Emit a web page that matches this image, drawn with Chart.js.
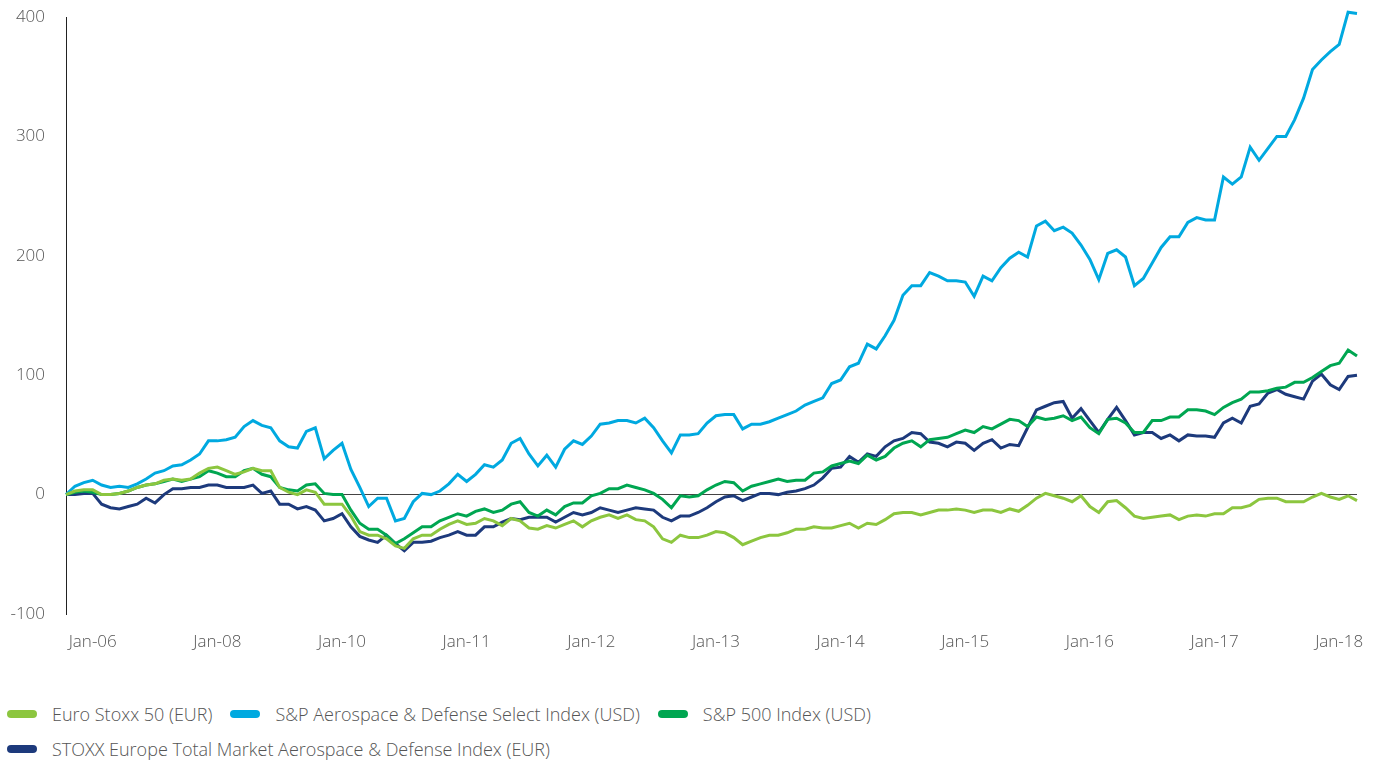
<!DOCTYPE html>
<html>
<head>
<meta charset="utf-8">
<script src="https://cdn.jsdelivr.net/npm/chart.js@4.4.1/dist/chart.umd.min.js"></script>
<style>
  html, body { margin: 0; padding: 0; background: #fff; }
  body { width: 1377px; height: 762px; position: relative; overflow: hidden; font-family: 'Open Sans', sans-serif; }
  #wrap { position: absolute; left: 0; top: 0; width: 1377px; height: 670px; }
  #legend { position: absolute; left: 7px; top: 702px; width: 900px; display: flex; flex-wrap: wrap; row-gap: 11px; column-gap: 18px;
            font-size: 18px; font-weight: 300; color: #555; line-height: 24px; }
  .item { display: flex; align-items: center; white-space: nowrap; }
  .swatch { width: 30px; height: 8px; border-radius: 4px; margin-right: 15px; }
</style>
</head>
<body>
<div id="wrap"><canvas id="chart"></canvas></div>
<div id="legend"></div>
<script>
// monthly index performance (%)
var euroStoxx50 = [0,3,4,4,0,0,1,3,6,8, 9,12,13,12,13,18,22,23,20,17, 19,22,20,20,6,2,0,4,2,-8,
  -8,-8,-18,-31,-34,-34,-37,-43,-45,-37, -34,-34,-29,-25,-22,-25,-24,-20,-22,-26, -20,-22,-28,-29,-26,-28,-25,-22,-27,-22,
  -19,-17,-20,-17,-21,-22,-27,-37,-40,-34, -36,-36,-34,-31,-32,-36,-42,-39,-36,-34, -34,-32,-29,-29,-27,-28,-28,-26,-24,-28,
  -24,-25,-21,-16,-15,-15,-17,-15,-13,-13, -12,-13,-15,-13,-13,-15,-12,-14,-9,-3, 1,-1,-3,-6,-1,-10,-15,-6,-5,-11,
  -18,-20,-19,-18,-17,-21,-18,-17,-18,-16, -16,-11,-11,-9,-4,-3,-3,-6,-6,-6, -2,1,-2,-4,-1,-5];
var aeroDefUS = [0,7,10,12,8,6,7,6,9,13, 18,20,24,25,29,34,45,45,46,48, 57,62,58,56,45,40,39,53,56,30,
  37,43,21,6,-10,-3,-3,-22,-20,-6, 1,0,3,9,17,11,17,25,23,29, 43,47,34,24,33,23,38,45,42,49,
  59,60,62,62,60,64,56,45,35,50, 50,51,60,66,67,67,55,59,59,61, 64,67,70,75,78,81,93,96,107,110,
  126,122,133,146,167,175,175,186,183,179, 179,178,166,183,179,190,198,203,199,225, 229,221,224,219,209,197,180,202,205,199,
  175,181,194,207,216,216,228,232,230,230, 266,260,266,291,280,290,300,300,314,332, 356,364,371,377,404,403];
var sp500 = [0,2,3,2,0,0,1,3,6,8, 9,11,13,11,13,15,20,18,15,15, 20,22,17,15,6,4,3,8,9,1,
  0,0,-13,-24,-29,-29,-34,-41,-37,-32, -27,-27,-22,-19,-16,-18,-14,-12,-15,-13, -8,-6,-15,-18,-13,-17,-10,-7,-7,-1,
  1,5,5,8,6,4,1,-4,-11,-1, -2,-1,4,8,11,10,3,7,9,11, 13,11,12,12,18,19,24,26,28,26,
  33,29,32,39,43,45,40,46,47,48, 51,54,52,57,55,59,63,62,57,65, 63,64,66,62,65,56,51,63,64,60,
  52,52,62,62,65,65,71,71,70,67, 73,77,80,86,86,87,89,90,94,94, 98,103,108,110,121,116];
var stoxxAeroDef = [0,0,1,1,-8,-11,-12,-10,-8,-3, -7,0,5,5,6,6,8,8,6,6, 6,8,1,3,-8,-8,-12,-10,-13,-22,
  -20,-16,-27,-35,-38,-40,-34,-41,-47,-40, -40,-39,-36,-34,-31,-34,-34,-27,-27,-23, -20,-21,-19,-19,-19,-23,-19,-15,-17,-15,
  -11,-13,-15,-13,-11,-12,-13,-19,-22,-18, -18,-15,-11,-6,-2,-1,-5,-2,1,1, 0,2,3,5,8,14,22,23,32,27,
  34,32,40,45,47,52,51,44,43,40, 44,43,37,43,46,39,42,41,56,71, 74,77,78,64,72,62,52,63,73,62,
  50,52,52,47,50,45,50,49,49,48, 60,64,60,74,76,85,88,84,82,80, 95,101,92,88,99,100];

var seriesNames = ['Euro Stoxx 50 (EUR)', 'S&P Aerospace & Defense Select Index (USD)', 'S&P 500 Index (USD)',
  'STOXX Europe Total Market Aerospace & Defense Index (EUR)'];
var seriesColors = ['#8cc63f', '#00a9e0', '#00a651', '#1d3a7c'];

// x axis labels as printed on the original, shown every 14th point from the 4th
var tickLabels = ['Jan-06','Jan-08','Jan-10','Jan-11','Jan-12','Jan-13','Jan-14','Jan-15','Jan-16','Jan-17','Jan-18'];
var tickStart = 3, tickStep = 14;

var periods = euroStoxx50.map(function(v, i) {
  var k = (i - tickStart) / tickStep;
  return (i >= tickStart && k === Math.floor(k) && tickLabels[k]) ? tickLabels[k] : '';
});

var textColor = '#555';
var font = { family: "'Open Sans', sans-serif", size: 17, weight: 300 };

var allSeries = [euroStoxx50, aeroDefUS, sp500, stoxxAeroDef];
var datasets = allSeries.map(function(d, i) {
  return {
    label: seriesNames[i],
    data: d,
    borderColor: seriesColors[i],
    backgroundColor: seriesColors[i],
    borderWidth: 3,
    pointRadius: 0,
    tension: 0,
    fill: false,
    clip: false
  };
});

var ctx = document.getElementById('chart').getContext('2d');
var myChart = new Chart(ctx, {
  type: 'line',
  data: { labels: periods, datasets: datasets },
  options: {
    responsive: true,
    maintainAspectRatio: false,
    animation: false,
    layout: { padding: { top: 17, right: 20, left: 0, bottom: 0 } },
    plugins: { legend: { display: false }, tooltip: { enabled: false } },
    scales: {
      x: {
        type: 'category',
        offset: false,
        grid: { display: false, drawTicks: false },
        border: { display: false },
        ticks: { autoSkip: false, maxRotation: 0, padding: 18, color: textColor, font: font },
        afterFit: function(scale) { scale.height = 56; }
      },
      y: {
        min: -100,
        max: 400,
        ticks: { stepSize: 100, padding: 21, color: textColor, font: font },
        grid: {
          drawTicks: false,
          color: function(c) { return c.tick && c.tick.value === 0 ? '#444' : 'rgba(0,0,0,0)'; },
          lineWidth: 1
        },
        border: { display: true, color: '#222', width: 1 },
        afterFit: function(scale) {
          scale.width = 66;
          // tick padding is meant horizontally only; don't let it push the plot down
          scale.paddingTop = 0;
          scale.paddingBottom = 0;
        }
      }
    }
  }
});

var legend = document.getElementById('legend');
seriesNames.forEach(function(name, i) {
  var item = document.createElement('div');
  item.className = 'item';
  var sw = document.createElement('span');
  sw.className = 'swatch';
  sw.style.background = seriesColors[i];
  var tx = document.createElement('span');
  tx.textContent = name;
  item.appendChild(sw);
  item.appendChild(tx);
  legend.appendChild(item);
});
</script>
</body>
</html>
